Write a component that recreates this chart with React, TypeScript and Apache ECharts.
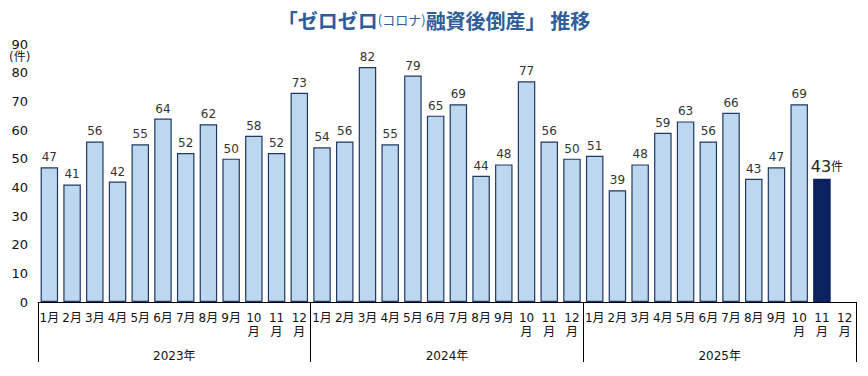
import React, { useEffect, useRef } from "react";
import * as echarts from "echarts";

const years = ["2023年", "2024年", "2025年"];
const months = ["1月", "2月", "3月", "4月", "5月", "6月", "7月", "8月", "9月", "10月", "11月", "12月"];
const values2023 = [47, 41, 56, 42, 55, 64, 52, 62, 50, 58, 52, 73];
const values2024 = [54, 56, 82, 55, 79, 65, 69, 44, 48, 77, 56, 50];
const values2025: (number | null)[] = [51, 39, 48, 59, 63, 56, 66, 43, 47, 69, 43, null];
const highlightIndex = 34; // 2025年11月
const yTicks = [0, 10, 20, 30, 40, 50, 60, 70, 80, 90];

const FONT = "'DejaVu Sans', 'Noto Sans CJK JP', sans-serif";

export default function App() {
  const ref = useRef<HTMLDivElement>(null);
  useEffect(() => {
    if (!ref.current) return;
    const chart = echarts.init(ref.current, null, { renderer: "svg" });
    const categories: string[] = [];
    years.forEach((y) => months.forEach((m) => categories.push(y + m)));
    const monthLabels: string[] = [];
    years.forEach(() => months.forEach((m) => monthLabels.push(m)));
    const all = [...values2023, ...values2024, ...values2025];
    const data = all.map((v, i) => {
      if (i === highlightIndex) {
        return {
          value: v,
          itemStyle: { color: "#0B2261", borderColor: "#0B2261" },
          label: {
            formatter: "{a|{c}}{b|件}",
            offset: [5, 0],
            rich: {
              a: { fontSize: 16, color: "#222", fontFamily: FONT },
              b: { fontSize: 12, color: "#222", fontFamily: FONT },
            },
          },
        };
      }
      return v;
    });
    chart.setOption({
      animation: false,
      title: {
        text: "{a|「ゼロゼロ}{b|(コロナ)}{a|融資後倒産」 推移}",
        left: "center",
        top: 5,
        textStyle: {
          rich: {
            a: { fontSize: 20, fontWeight: "bold", color: "#2F5C9A", fontFamily: "'Noto Sans CJK JP', sans-serif" },
            b: { fontSize: 13, fontWeight: "normal", color: "#2F5C9A", fontFamily: "'Noto Sans CJK JP', sans-serif" },
          },
        },
      },
      graphic: [
        {
          type: "text",
          left: 9,
          top: 51,
          style: { text: "(件)", fontSize: 12, fill: "#222", fontFamily: FONT },
        },
      ],
      grid: { left: 38, right: 12, top: 44, bottom: 74, containLabel: false },
      xAxis: [
        {
          type: "category",
          data: categories,
          axisLine: { show: true, lineStyle: { color: "#000", width: 1 } },
          axisTick: { show: false },
          axisLabel: {
            interval: 0,
            margin: 9,
            fontSize: 12,
            lineHeight: 14,
            color: "#111",
            fontFamily: FONT,
            formatter: (_v: string, idx: number) => {
              const m = monthLabels[idx];
              return m.length > 2 ? m.slice(0, 2) + "\n" + m.slice(2) : m;
            },
          },
        },
        {
          type: "category",
          data: years,
          position: "bottom",
          axisLine: { show: false },
          axisTick: { show: true, length: 60, lineStyle: { color: "#000", width: 1 } },
          axisLabel: { margin: 48, fontSize: 12, color: "#111", fontFamily: FONT },
        },
      ],
      yAxis: {
        type: "value",
        min: yTicks[0],
        max: yTicks[yTicks.length - 1],
        interval: 10,
        axisLine: { show: false },
        axisTick: { show: false },
        splitLine: { show: false },
        axisLabel: { fontSize: 13, color: "#111", fontFamily: FONT, margin: 10 },
      },
      series: [
        {
          type: "bar",
          data,
          xAxisIndex: 0,
          barCategoryGap: "23%",
          itemStyle: { color: "#BDD7EE", borderColor: "#1F3864", borderWidth: 1.2 },
          label: {
            show: true,
            position: "top",
            distance: 4,
            fontSize: 12,
            color: "#333",
            fontFamily: FONT,
          },
        },
      ],
    });
    return () => chart.dispose();
  }, []);
  return (
    <div
      ref={ref}
      style={{ width: 868, height: 376, position: "absolute", left: 0, top: 0 }}
    />
  );
}
